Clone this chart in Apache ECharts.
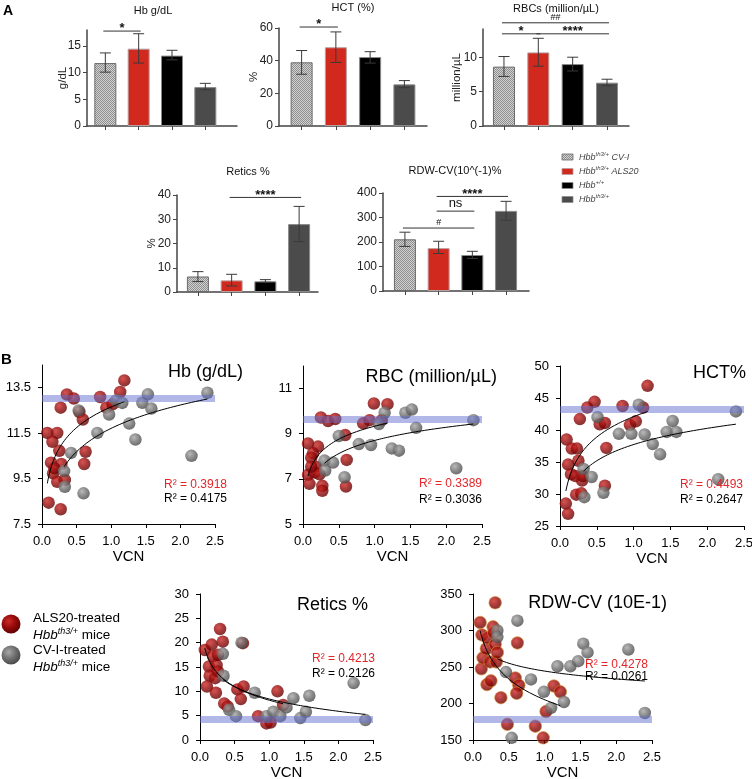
<!DOCTYPE html>
<html><head><meta charset="utf-8">
<script src="https://cdn.jsdelivr.net/npm/echarts@6/dist/echarts.min.js"></script>
<style>html,body{margin:0;padding:0;background:#fff}#c{width:752px;height:779px}</style>
</head><body><div id="c"></div>
<script>
// ================= DATA =================
const groupNames = ['CV-I', 'ALS20', '+/+', 'th3/+'];

const hbMean = [11.8, 14.5, 13.2, 7.3];
const hbLow  = [10.1, 11.8, 12.4, 6.8];
const hbHigh = [13.7, 17.3, 14.2, 8.0];
const hbSig  = [[0, 1, 17.8, '*']];

const hctMean = [39.0, 48.2, 42.2, 25.5];
const hctLow  = [31.7, 38.9, 38.5, 23.5];
const hctHigh = [46.2, 57.6, 45.5, 27.8];
const hctSig  = [[0, 1, 60.6, '*']];

const rbcMean = [8.63, 10.7, 9.0, 6.3];
const rbcLow  = [7.2, 8.7, 8.0, 5.85];
const rbcHigh = [10.1, 12.75, 10.0, 6.8];
const rbcSig  = [[0, 3, 15.0, '##'], [0, 1, 13.4, '*'], [1, 3, 13.4, '****']];

const reticMean = [6.4, 4.8, 4.4, 28.0];
const reticLow  = [4.3, 2.5, 4.0, 20.8];
const reticHigh = [8.4, 7.3, 5.1, 35.3];
const reticSig  = [[1, 3, 39.0, '****']];

const rdwMean = [211, 175, 147, 327];
const rdwLow  = [182, 153, 133, 289];
const rdwHigh = [240, 203, 162, 366];
const rdwSig  = [[0, 2, 257, '#'], [1, 2, 326, 'ns'], [1, 3, 386, '****']];

// Scatter: [VCN, value]
const hbRed = [[0.096,8.44],[0.27,8.15],[0.077,11.51],[0.22,11.51],[0.15,11.12],[0.25,10.72],[0.13,10.2],[0.28,10.14],[0.16,9.73],[0.22,9.36],[0.33,9.44],[0.18,9.95],[0.27,12.62],[0.36,13.2],[0.46,13.02],[0.54,12.43],[0.59,12.1],[0.63,10.68],[0.61,10.14],[0.84,13.09],[0.93,12.62],[1.02,12.77],[1.13,13.31],[1.19,13.82]];
const hbGray = [[0.32,9.83],[0.33,9.14],[0.42,10.63],[0.53,12.5],[0.6,8.85],[0.8,11.51],[0.97,12.32],[1.07,12.94],[1.16,12.83],[1.26,11.92],[1.35,11.22],[1.45,12.84],[1.53,13.21],[1.58,12.58],[2.16,10.5],[2.39,13.28]];
const hbRef = 13.05;

const rbcRed = [[0.07,7.18],[0.09,6.78],[0.07,8.57],[0.21,8.43],[0.14,8.13],[0.115,7.94],[0.18,7.54],[0.16,7.28],[0.23,7.2],[0.115,7.54],[0.27,6.69],[0.27,6.47],[0.25,9.72],[0.35,9.56],[0.45,9.65],[0.59,8.94],[0.61,7.84],[0.6,6.66],[0.84,9.46],[0.93,9.6],[0.99,10.34],[1.1,9.6],[1.18,10.31]];
const rbcGray = [[0.3,7.81],[0.31,7.37],[0.42,7.72],[0.5,8.9],[0.58,7.07],[0.78,8.54],[0.95,8.5],[1.06,9.43],[1.14,9.93],[1.24,8.35],[1.34,8.25],[1.43,9.93],[1.52,10.07],[1.58,9.26],[2.14,7.47],[2.38,9.6]];
const rbcRef = 9.62;

const hctRed = [[0.08,28.5],[0.11,26.9],[0.09,38.5],[0.16,37.1],[0.23,37.1],[0.11,34.6],[0.25,35.2],[0.15,33.1],[0.21,32.8],[0.3,32.1],[0.31,32.8],[0.22,29.9],[0.29,30.1],[0.27,41.7],[0.37,43.5],[0.47,44.4],[0.54,40.9],[0.61,41.1],[0.63,37.2],[0.61,31.3],[0.85,43.75],[0.95,40.8],[1.03,41.35],[1.13,43.5],[1.19,46.9]];
const hctGray = [[0.32,33.9],[0.33,29.5],[0.43,32.65],[0.51,42.0],[0.59,30.2],[0.8,39.4],[0.97,39.4],[1.07,43.95],[1.15,39.3],[1.26,37.8],[1.36,36.2],[1.45,39.7],[1.53,41.4],[1.58,39.7],[2.15,32.3],[2.39,42.9]];
const hctRef = 43.3;

const reticRed = [[0.07,18.5],[0.17,19.6],[0.29,22.8],[0.33,20.2],[0.19,17.2],[0.13,15.1],[0.24,15.4],[0.26,17.5],[0.14,13.2],[0.22,12.7],[0.1,11.0],[0.23,9.7],[0.26,14.1],[0.35,7.5],[0.4,6.9],[0.54,10.4],[0.63,11.0],[0.59,8.4],[0.62,19.9],[0.84,4.9],[0.96,3.4],[1.02,3.6],[1.12,10.0],[1.2,7.2]];
const reticGray = [[0.33,17.7],[0.34,13.2],[0.42,6.2],[0.52,4.9],[0.6,20.0],[0.79,9.7],[0.96,4.9],[1.06,5.8],[1.16,4.9],[1.25,6.7],[1.35,8.6],[1.45,4.5],[1.53,5.8],[1.58,9.1],[2.22,11.7],[2.39,4.1]];
const reticRef = 4.3;

const rdwRed = [[0.1,311],[0.125,294],[0.116,247.5],[0.14,262.6],[0.186,275],[0.2,290],[0.195,226],[0.25,231],[0.28,305],[0.31,338],[0.29,297],[0.31,281],[0.24,257],[0.325,257],[0.34,270],[0.39,208],[0.48,171.5],[0.59,235],[0.62,283],[0.64,225],[0.61,214],[0.87,169],[0.98,153],[1.02,189],[1.13,224],[1.22,216]];
const rdwGray = [[0.34,300],[0.34,291],[0.46,243],[0.54,153],[0.62,313.5],[0.81,233],[0.99,216],[1.09,194],[1.18,251],[1.27,202],[1.36,251],[1.47,258],[1.54,282],[1.6,270],[2.17,274],[2.4,187]];
const rdwRef = 178;

const r2Red  = ['R² = 0.3918', 'R² = 0.3389', 'R² = 0.4493', 'R² = 0.4213', 'R² = 0.4278'];
const r2Gray = ['R² = 0.4175', 'R² = 0.3036', 'R² = 0.2647', 'R² = 0.2126', 'R² = 0.0261'];

// ================= STYLE / LAYOUT =================
const FONT = "'Liberation Sans', Arial, Helvetica, sans-serif";
const chart = echarts.init(document.getElementById('c'), null, {renderer: 'canvas'});

// checker pattern for CV-I bars
const pc = document.createElement('canvas'); pc.width = 2; pc.height = 2;
const pctx = pc.getContext('2d');
pctx.fillStyle = '#d2d2d2'; pctx.fillRect(0,0,2,2);
pctx.fillStyle = '#8e8e8e'; pctx.fillRect(0,0,1,1); pctx.fillRect(1,1,1,1);
const checker = {image: pc, repeat: 'repeat'};
const barFill = [checker, '#d2291e', '#000000', '#4b4b4b'];
const barBorder = ['#6a6a6a', '#b7a0a0', '#8a8a8a', '#8a8a8a'];

const redGrad = {type:'radial', x:0.38, y:0.35, r:0.7, colorStops:[{offset:0,color:'#cc2a26'},{offset:0.5,color:'#970b0b'},{offset:1,color:'#5c0000'}]};
const grayGrad = {type:'radial', x:0.38, y:0.35, r:0.7, colorStops:[{offset:0,color:'#a8a8a8'},{offset:0.5,color:'#717171'},{offset:1,color:'#454545'}]};

const grids = [], xAxes = [], yAxes = [], series = [], graphics = [];

function txt(x, y, text, o) {
  o = o || {};
  graphics.push({type:'text', x:x, y:y, silent:true, z:100, style:Object.assign({
    text:text, fill:'#111', fontSize:11, fontFamily:FONT, align:'center', verticalAlign:'middle'}, o)});
}

function addBarPanel(c) {
  const gi = grids.length;
  grids.push({left:c.left, top:c.top, width:c.width, height:c.height, containLabel:false, outerBoundsMode:'none'});
  const axLine = {show:true, onZero:false, lineStyle:{color:'#444', width:1.5}};
  xAxes.push({gridIndex:gi, type:'value', min:c.xmin, max:c.xmax, axisLine:axLine,
    axisTick:{show:true, length:4, customValues:[0,1,2,3], lineStyle:{color:'#444', width:1}},
    axisLabel:{show:false}, splitLine:{show:false}});
  const ya = {gridIndex:gi, type:'value', min:0, max:c.ymax, axisLine:axLine,
    axisTick:{show:true, length:4, lineStyle:{color:'#444', width:1}},
    axisLabel:{fontSize:12, color:'#222', fontFamily:FONT, margin:6},
    splitLine:{show:false},
    name:c.yname || '', nameLocation:'middle', nameGap:c.nameGap || 20, nameMoveOverlap:false,
    nameTextStyle:{fontSize:11.5, color:'#222', fontFamily:FONT}};
  if (c.ticks) { ya.axisTick.customValues = c.ticks; ya.axisLabel.customValues = c.ticks; }
  else ya.interval = c.interval;
  yAxes.push(ya);
  series.push({type:'bar', xAxisIndex:gi, yAxisIndex:gi, barWidth:22, z:2,
    data:c.mean.map((v,i)=>({value:[i,v], itemStyle:{color:barFill[i], borderColor:barBorder[i], borderWidth:1}}))});
  series.push({type:'custom', xAxisIndex:gi, yAxisIndex:gi, z:3, clip:false,
    encode:{x:0, y:[1,2]},
    data:c.mean.map((v,i)=>[i, c.low[i], c.high[i]]),
    renderItem:function(params, api){
      const x = api.value(0);
      const a = api.coord([x, api.value(1)]), b = api.coord([x, api.value(2)]);
      const hw = 5.5, st = {stroke:'#3a3a3a', lineWidth:1};
      return {type:'group', children:[
        {type:'line', shape:{x1:a[0], y1:a[1], x2:b[0], y2:b[1]}, style:st},
        {type:'line', shape:{x1:a[0]-hw, y1:a[1], x2:a[0]+hw, y2:a[1]}, style:st},
        {type:'line', shape:{x1:b[0]-hw, y1:b[1], x2:b[0]+hw, y2:b[1]}, style:st}]};
    }});
  const sigs = c.sig;
  series.push({type:'custom', xAxisIndex:gi, yAxisIndex:gi, z:4, clip:false,
    encode:{x:[0,1], y:2},
    data:sigs.map(s=>[s[0], s[1], s[2]]),
    renderItem:function(params, api){
      const p1 = api.coord([api.value(0), api.value(2)]);
      const p2 = api.coord([api.value(1), api.value(2)]);
      const label = sigs[params.dataIndex][3];
      const isHash = label.indexOf('#') >= 0, isNs = label === 'ns';
      const fs = isHash ? 9 : 13;
      return {type:'group', children:[
        {type:'line', shape:{x1:p1[0]-2, y1:p1[1], x2:p2[0]+2, y2:p2[1]}, style:{stroke:'#333', lineWidth:1}},
        {type:'text', x:(p1[0]+p2[0])/2, y:p1[1] + (isNs ? -1 : (isHash ? -1 : 4)),
          style:{text:label, fill:'#111', fontSize:fs, fontWeight:(isHash||isNs)?'normal':'bold', fontFamily:FONT, align:'center', verticalAlign:'bottom'}}]};
    }});
  txt(c.titleX, c.titleY, c.title, {fontSize:11});
}

function logFit(pts) {
  const n = pts.length; let sx=0, sy=0, sxx=0, sxy=0;
  pts.forEach(p => { const l = Math.log(p[0]); sx += l; sy += p[1]; sxx += l*l; sxy += l*p[1]; });
  const b = (n*sxy - sx*sy) / (n*sxx - sx*sx), a = (sy - b*sx) / n;
  const xs = pts.map(p => p[0]); const x0 = Math.min(...xs), x1 = Math.max(...xs);
  const out = [];
  for (let i = 0; i <= 80; i++) { const x = x0 * Math.pow(x1/x0, i/80); out.push([x, a + b*Math.log(x)]); }
  return out;
}

function addScatterPanel(c) {
  const gi = grids.length;
  grids.push({left:c.left, top:c.top, width:c.width, height:c.height, containLabel:false, outerBoundsMode:'none'});
  const axLine = {show:true, onZero:false, lineStyle:{color:'#000', width:1}};
  xAxes.push({gridIndex:gi, type:'value', min:0, max:2.5, interval:0.5, axisLine:axLine,
    axisTick:{show:true, length:4, lineStyle:{color:'#000'}},
    axisLabel:{fontSize:13, color:'#000', fontFamily:FONT, margin:11, formatter:v=>v.toFixed(1)},
    splitLine:{show:false},
    name:'VCN', nameLocation:'middle', nameGap:25, nameTextStyle:{fontSize:15, color:'#000', fontFamily:FONT}});
  const ya = {gridIndex:gi, type:'value', min:c.ymin, max:c.ymax, axisLine:axLine,
    axisTick:{show:true, length:4, lineStyle:{color:'#000'}},
    axisLabel:{fontSize:13, color:'#000', fontFamily:FONT, margin:11},
    splitLine:{show:false}};
  if (c.ticks) { ya.axisTick.customValues = c.ticks; ya.axisLabel.customValues = c.ticks; }
  else ya.interval = c.interval;
  yAxes.push(ya);
  const redBorder = c.redBorder ? {borderColor:'#d88a2a', borderWidth:0.8} : {};
  series.push({type:'scatter', xAxisIndex:gi, yAxisIndex:gi, z:2, symbolSize:12.5, data:c.red,
    itemStyle:Object.assign({color:redGrad}, redBorder)});
  series.push({type:'scatter', xAxisIndex:gi, yAxisIndex:gi, z:3, symbolSize:12.5, data:c.gray,
    itemStyle:{color:grayGrad}});
  series.push({type:'line', xAxisIndex:gi, yAxisIndex:gi, z:5, data:logFit(c.red), showSymbol:false, symbol:'none',
    lineStyle:{color:'#000', width:1}, silent:true});
  series.push({type:'line', xAxisIndex:gi, yAxisIndex:gi, z:6, data:logFit(c.gray), showSymbol:false, symbol:'none',
    lineStyle:{color:'#000', width:1}, silent:true,
    markLine:{silent:true, symbol:['none','none'], label:{show:false}, animation:false,
      lineStyle:{color:'rgba(100,114,208,0.5)', width:7, type:'solid'}, data:[{yAxis:c.ref}]}});
  txt(c.titleR, c.titleY, c.title, {fontSize:18, align:'right', fill:'#000'});
  txt(c.r2R, c.r2Y1, c.r2a, {fontSize:12, align:'right', fill:'#e3262a'});
  txt(c.r2R, c.r2Y2, c.r2b, {fontSize:12, align:'right', fill:'#000'});
}

// ----- Panel A -----
addBarPanel({left:87, top:30, width:150, height:96, xmin:-0.55, xmax:3.95, ymax:18, ticks:[0,5,10,15],
  mean:hbMean, low:hbLow, high:hbHigh, sig:hbSig, yname:'g/dL', nameGap:18, title:'Hb g/dL', titleX:153, titleY:11});
addBarPanel({left:279, top:28, width:148, height:98, xmin:-0.66, xmax:3.66, ymax:60, interval:20,
  mean:hctMean, low:hctLow, high:hctHigh, sig:hctSig, yname:'%', nameGap:19, title:'HCT (%)', titleX:353, titleY:8});
addBarPanel({left:483, top:29, width:146, height:97, xmin:-0.61, xmax:3.64, ymax:14.1, ticks:[0,5,10],
  mean:rbcMean, low:rbcLow, high:rbcHigh, sig:rbcSig, yname:'million/µL', nameGap:20, title:'RBCs (million/µL)', titleX:556, titleY:9});
addBarPanel({left:177, top:195, width:141, height:97, xmin:-0.62, xmax:3.56, ymax:40, interval:10,
  mean:reticMean, low:reticLow, high:reticHigh, sig:reticSig, yname:'%', nameGap:19, title:'Retics %', titleX:248, titleY:172});
addBarPanel({left:383, top:193, width:146, height:98, xmin:-0.65, xmax:3.68, ymax:400, interval:100,
  mean:rdwMean, low:rdwLow, high:rdwHigh, sig:rdwSig, yname:'', title:'RDW-CV(10^(-1)%', titleX:455, titleY:171});

// ----- Panel B -----
addScatterPanel({left:42, top:365, width:173, height:159, ymin:7.5, ymax:14.5, ticks:[7.5,9.5,11.5,13.5],
  red:hbRed, gray:hbGray, ref:hbRef, title:'Hb (g/dL)', titleR:243, titleY:372,
  r2R:227, r2Y1:485, r2Y2:499, r2a:r2Red[0], r2b:r2Gray[0]});
addScatterPanel({left:303, top:366, width:179, height:158, ymin:5, ymax:12, ticks:[5,7,9,11],
  red:rbcRed, gray:rbcGray, ref:rbcRef, title:'RBC (million/µL)', titleR:497, titleY:377,
  r2R:482, r2Y1:484, r2Y2:500, r2a:r2Red[1], r2b:r2Gray[1]});
addScatterPanel({left:560, top:366, width:184, height:160, ymin:25, ymax:50, interval:5,
  red:hctRed, gray:hctGray, ref:hctRef, title:'HCT%', titleR:746, titleY:373,
  r2R:743, r2Y1:485, r2Y2:500, r2a:r2Red[2], r2b:r2Gray[2]});
addScatterPanel({left:200, top:594, width:173, height:146, ymin:0, ymax:30, interval:5,
  red:reticRed, gray:reticGray, ref:reticRef, title:'Retics %', titleR:368, titleY:605,
  r2R:375, r2Y1:659, r2Y2:674, r2a:r2Red[3], r2b:r2Gray[3]});
addScatterPanel({left:473, top:594, width:179, height:146, ymin:150, ymax:350, interval:50, redBorder:true,
  red:rdwRed, gray:rdwGray, ref:rdwRef, title:'RDW-CV (10E-1)', titleR:667, titleY:603,
  r2R:648, r2Y1:665, r2Y2:677, r2a:r2Red[4], r2b:r2Gray[4]});

// ----- Panel letters -----
txt(3, 11, 'A', {fontSize:14, fontWeight:'bold', align:'left', fill:'#000'});
txt(1, 360, 'B', {fontSize:15, fontWeight:'bold', align:'left', fill:'#000'});

// ----- Legend A -----
const legA = [
  ['Hbb', 'th3/+', ' CV-I'], ['Hbb', 'th3/+', ' ALS20'], ['Hbb', '+/+', ''], ['Hbb', 'th3/+', '']];
const legAY = [157, 171.5, 185.5, 199.5];
legA.forEach((t, i) => {
  graphics.push({type:'rect', shape:{x:562, y:legAY[i]-3, width:11, height:6}, silent:true, z:100,
    style:{fill:barFill[i], stroke:barBorder[i], lineWidth:0.8}});
  graphics.push({type:'text', x:579, y:legAY[i], silent:true, z:100, style:{
    text:'{m|' + t[0] + '}{s|' + t[1] + '}' + (t[2] ? '{m|' + t[2] + '}' : ''),
    align:'left', verticalAlign:'middle',
    rich:{m:{fontSize:9, fontStyle:'italic', fontFamily:FONT, fill:'#444', lineHeight:12, verticalAlign:'middle'},
          s:{fontSize:6, fontStyle:'italic', fontFamily:FONT, fill:'#444', verticalAlign:'top', lineHeight:8}}}});
});

// ----- Legend B -----
const legB = [['ALS20-treated', redGrad, 624, 618, 635.5], ['CV-I-treated', grayGrad, 655, 650, 667]];
legB.forEach(l => {
  graphics.push({type:'circle', shape:{cx:11, cy:l[2], r:9.5}, silent:true, z:100, style:{fill:l[1]}});
  txt(33, l[3], l[0], {fontSize:13.5, align:'left', fill:'#000'});
  graphics.push({type:'text', x:33, y:l[4], silent:true, z:100, style:{
    text:'{i|Hbb}{s|th3/+}{m| mice}', align:'left', verticalAlign:'middle',
    rich:{i:{fontSize:13.5, fontStyle:'italic', fontFamily:FONT, fill:'#000', lineHeight:17, verticalAlign:'middle'},
          m:{fontSize:13.5, fontFamily:FONT, fill:'#000', lineHeight:17, verticalAlign:'middle'},
          s:{fontSize:9, fontStyle:'italic', fontFamily:FONT, fill:'#000', verticalAlign:'top', lineHeight:10}}}});
});

chart.setOption({
  animation:false,
  backgroundColor:'#ffffff',
  grid:grids, xAxis:xAxes, yAxis:yAxes, series:series, graphic:graphics
});
</script></body></html>
